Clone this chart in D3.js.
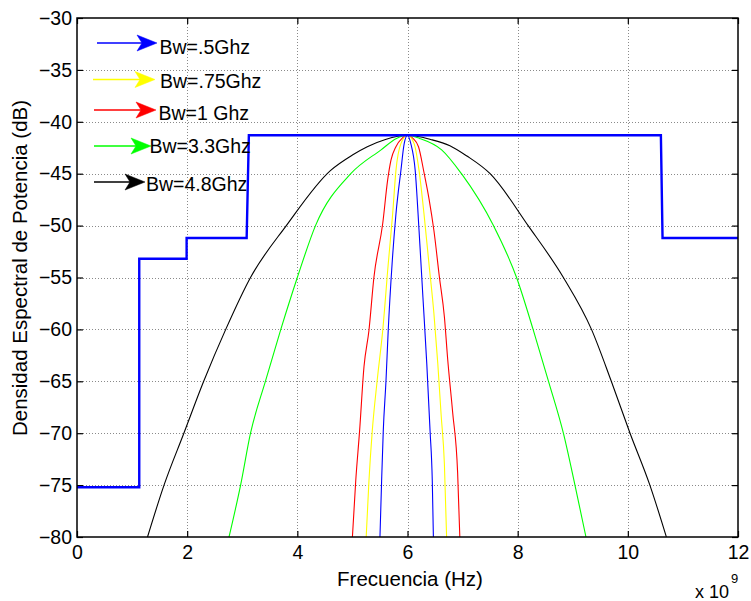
<!DOCTYPE html>
<html>
<head>
<meta charset="utf-8">
<script src="https://cdn.jsdelivr.net/npm/d3@7"></script>
<style>
  body { margin: 0; background: #fff; }
  svg { display: block; }
  text { font-family: "Liberation Sans", Arial, Helvetica, sans-serif; fill: #000; }
</style>
</head>
<body>
<svg id="chart" width="751" height="601"></svg>
<script>
// FCC indoor UWB emission mask (frequency in GHz, level in dB)
const maskFreq = [0, 1.13, 1.13, 1.99, 1.99, 3.08, 3.12, 10.60, 10.63, 12];
const maskDb   = [-75.2, -75.2, -53.2, -53.2, -51.2, -51.2, -41.3, -41.3, -51.2, -51.2];

// Power spectral density of the pulse for each bandwidth
const bw05Freq = [5.50, 5.53, 5.56, 5.61, 5.65, 5.72, 5.79, 5.88, 5.94, 6.00, 6.06, 6.14, 6.21, 6.28, 6.35, 6.41, 6.45, 6.47];
const bw05Db   = [-80, -74.6, -69.8, -64.9, -60.1, -53.7, -48.9, -44.7, -42.1, -41.3, -42.1, -44.7, -50.5, -56.9, -63.3, -69.8, -74.6, -80];

const bw075Freq = [5.25, 5.30, 5.36, 5.45, 5.55, 5.65, 5.73, 5.79, 5.88, 6.00, 6.12, 6.21, 6.30, 6.39, 6.48, 6.55, 6.61, 6.67, 6.71];
const bw075Db   = [-80, -74.6, -69.8, -64.9, -60.1, -53.7, -48.9, -44.7, -42.1, -41.3, -42.1, -44.7, -48.9, -53.7, -58.5, -63.3, -68.2, -73.0, -80];

const bw1Freq = [5.00, 5.06, 5.13, 5.21, 5.30, 5.39, 5.55, 5.64, 5.70, 5.79, 5.90, 6.00, 6.10, 6.20, 6.30, 6.39, 6.48, 6.58, 6.67, 6.73, 6.82, 6.91, 6.95];
const bw1Db   = [-80, -74.6, -69.8, -63.6, -60.1, -55.0, -49.8, -45.6, -43.7, -42.4, -41.6, -41.3, -41.6, -42.4, -44.9, -47.4, -50.5, -55.0, -58.8, -62.9, -68.0, -73.8, -80];

const bw33Freq = [2.76, 2.97, 3.15, 3.42, 3.70, 4.00, 4.33, 4.97, 5.52, 5.80, 6.00, 6.22, 6.62, 6.98, 7.56, 7.98, 8.28, 8.56, 8.83, 9.04, 9.24];
const bw33Db   = [-80, -75, -70, -65, -60, -55, -50, -45, -42.7, -41.6, -41.3, -41.6, -42.7, -45, -50, -55, -60, -65, -70, -75, -80];

const bw48Freq = [1.28, 1.58, 1.94, 2.30, 2.70, 3.15, 3.80, 4.60, 5.00, 5.27, 5.60, 6.00, 6.42, 6.77, 7.08, 7.50, 8.19, 8.83, 9.34, 9.70, 10.04, 10.40, 10.70];
const bw48Db   = [-80, -75, -70, -65, -60, -55, -50, -44.7, -43.2, -42.4, -41.7, -41.3, -41.7, -42.3, -43.3, -45, -50, -55, -60, -65, -70, -75, -80];

const xTicks = [0, 2, 4, 6, 8, 10, 12];
const yTicks = [-80, -75, -70, -65, -60, -55, -50, -45, -40, -35, -30];
const legendLabels = ["Bw=.5Ghz", "Bw=.75Ghz", "Bw=1 Ghz", "Bw=3.3Ghz", "Bw=4.8Ghz"];
const xLabel = "Frecuencia (Hz)";
const yLabel = "Densidad Espectral de Potencia (dB)";
const xExponent = "9";

// ---- layout ----
const plot = { left: 77, right: 738, top: 18, bottom: 537 };
const svg = d3.select("#chart");
const x = d3.scaleLinear().domain([0, 12]).range([plot.left, plot.right]);
const y = d3.scaleLinear().domain([-80, -30]).range([plot.bottom, plot.top]);
const W = plot.right - plot.left, H = plot.bottom - plot.top;

// grid (dotted)
const grid = svg.append("g").attr("stroke", "#8a8a8a").attr("stroke-width", 1)
  .attr("stroke-dasharray", "1,2").attr("shape-rendering", "crispEdges");
grid.selectAll("line.v").data(xTicks.slice(1, -1)).join("line")
  .attr("x1", d => Math.round(x(d)) + 0.5).attr("x2", d => Math.round(x(d)) + 0.5)
  .attr("y1", plot.top).attr("y2", plot.bottom);
grid.selectAll("line.h").data(yTicks.slice(1, -1)).join("line")
  .attr("y1", d => Math.round(y(d)) + 0.5).attr("y2", d => Math.round(y(d)) + 0.5)
  .attr("x1", plot.left).attr("x2", plot.right);

// axes with inward ticks on all four sides
const tickFs = 19.5, legendFs = 19.5, titleFs = 20.5;
const axLeft = svg.append("g").attr("transform", `translate(${plot.left},0)`)
  .call(d3.axisLeft(y).tickValues(yTicks).tickSize(-6).tickPadding(5));
const axRight = svg.append("g").attr("transform", `translate(${plot.right},0)`)
  .call(d3.axisRight(y).tickValues(yTicks).tickSize(-6).tickFormat(""));
const axBottom = svg.append("g").attr("transform", `translate(0,${plot.bottom})`)
  .call(d3.axisBottom(x).tickValues(xTicks).tickSize(-6).tickPadding(8));
const axTop = svg.append("g").attr("transform", `translate(0,${plot.top})`)
  .call(d3.axisTop(x).tickValues(xTicks).tickSize(-6).tickFormat(""));
[axLeft, axRight, axBottom, axTop].forEach(g => {
  g.select(".domain").remove();
  g.selectAll("line").attr("stroke", "#000").attr("stroke-width", 1.2);
  g.selectAll("text").attr("font-size", tickFs).attr("font-family", null);
});

// spectra
const spectrumLine = d3.line().x(d => x(d[0])).y(d => y(d[1])).curve(d3.curveMonotoneX);
const series = [
  { f: bw48Freq, v: bw48Db, c: "#000000" },
  { f: bw33Freq, v: bw33Db, c: "#00ff00" },
  { f: bw1Freq,  v: bw1Db,  c: "#ff0000" },
  { f: bw075Freq, v: bw075Db, c: "#ffff00" },
  { f: bw05Freq, v: bw05Db, c: "#0000ff" }
];
series.forEach(s => {
  svg.append("path").datum(d3.zip(s.f, s.v)).attr("d", spectrumLine)
    .attr("fill", "none").attr("stroke", s.c).attr("stroke-width", 1.1);
});

// emission mask
svg.append("path").datum(d3.zip(maskFreq, maskDb))
  .attr("d", d3.line().x(d => x(d[0])).y(d => y(d[1])))
  .attr("fill", "none").attr("stroke", "#0000ff").attr("stroke-width", 2.4)
  .attr("stroke-linejoin", "miter");

// plot box
svg.append("rect").attr("x", plot.left).attr("y", plot.top).attr("width", W).attr("height", H)
  .attr("fill", "none").attr("stroke", "#000").attr("stroke-width", 1.5);

// legend: annotation arrows pointing at labels
const legendColors = ["#0000ff", "#ffff00", "#ff0000", "#00ff00", "#000000"];
const legendLayout = [
  { x0: 97, tip: 157, y: 43,  tx: 159.5, ty: 53.5 },
  { x0: 93, tip: 155, y: 79.5, tx: 160, ty: 88 },
  { x0: 94, tip: 156, y: 110, tx: 158.5, ty: 120 },
  { x0: 94, tip: 151, y: 146, tx: 149.5, ty: 152.5 },
  { x0: 94, tip: 145, y: 182, tx: 146, ty: 190.5 }
];
const leg = svg.append("g");
legendLabels.forEach((lab, i) => {
  const L = legendLayout[i], c = legendColors[i];
  const hl = 20, hw = 8, notch = 15;
  leg.append("line").attr("x1", L.x0).attr("x2", L.tip - notch).attr("y1", L.y).attr("y2", L.y)
    .attr("stroke", c).attr("stroke-width", 1.3);
  leg.append("path")
    .attr("d", `M${L.tip},${L.y}L${L.tip - hl},${L.y - hw}L${L.tip - notch},${L.y}L${L.tip - hl},${L.y + hw}Z`)
    .attr("fill", c).attr("stroke", c).attr("stroke-width", 0.5);
  leg.append("text").attr("x", L.tx).attr("y", L.ty).attr("font-size", legendFs).text(lab);
});

// axis titles
svg.append("text").attr("x", 410).attr("y", 586)
  .attr("text-anchor", "middle").attr("font-size", titleFs).text(xLabel);
svg.append("text").attr("transform", `translate(27,268) rotate(-90)`)
  .attr("text-anchor", "middle").attr("font-size", titleFs).text(yLabel);

// x-axis exponent
svg.append("text").attr("x", 695).attr("y", 598).attr("font-size", 18).text("x 10");
svg.append("text").attr("x", 731).attr("y", 583).attr("font-size", 13).text(xExponent);
</script>
</body>
</html>
